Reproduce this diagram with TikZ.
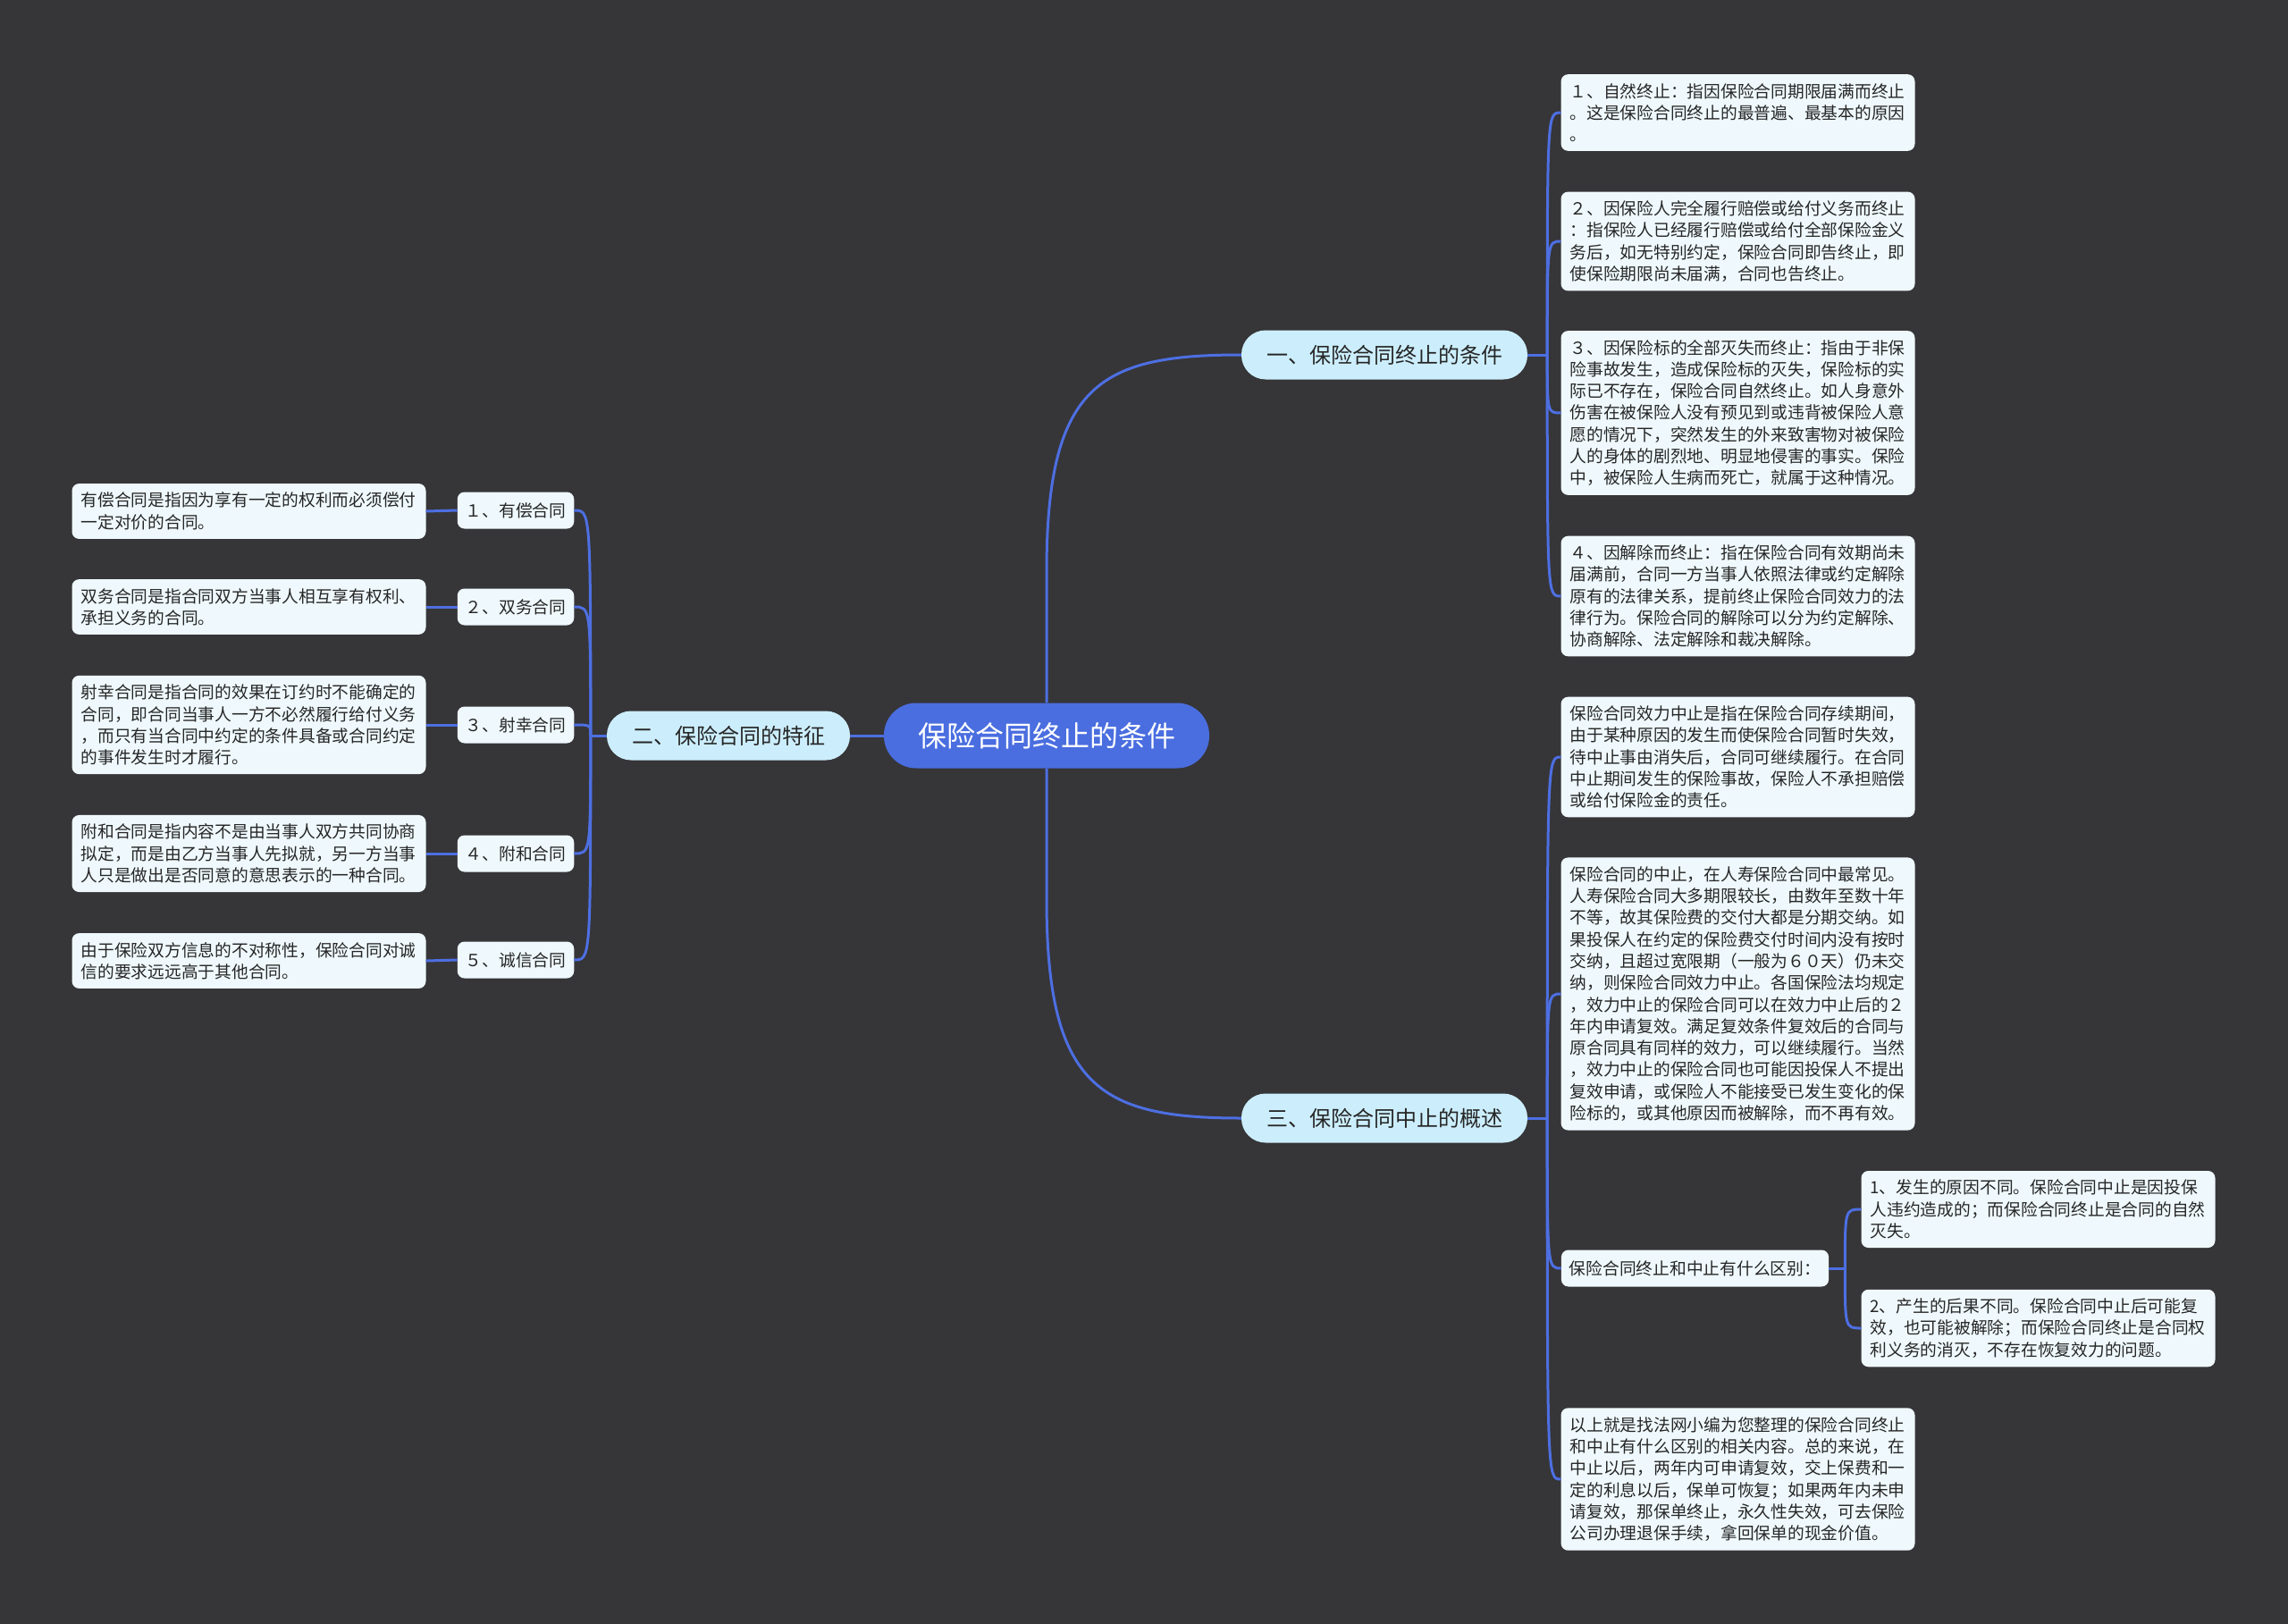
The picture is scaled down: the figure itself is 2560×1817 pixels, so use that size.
\documentclass[tikz,border=0pt]{standalone}
\usepackage{fontspec}
\setmainfont{Noto Sans CJK SC}
\definecolor{bgc}{HTML}{363538}
\definecolor{rootc}{HTML}{4A6EE0}
\definecolor{linec}{HTML}{4D6FE2}
\definecolor{branchc}{HTML}{CCEEFC}
\definecolor{leafc}{HTML}{EFF9FD}
\definecolor{txtc}{HTML}{262626}
\begin{document}
\begin{tikzpicture}[x=1pt,y=-1pt,
  leaf/.style={fill=leafc, text=txtc, rounded corners=8pt, inner xsep=10pt, inner ysep=10pt,
    align=left, text width=376pt, font=\fontsize{18.75}{24.3}\selectfont},
  small/.style={fill=leafc, text=txtc, rounded corners=8pt, inner xsep=9pt, inner ysep=0pt,
    minimum height=41pt, font=\fontsize{18.75}{24.3}\selectfont},
  branch/.style={fill=branchc, text=txtc, rounded corners=27pt, inner xsep=28pt, inner ysep=0pt,
    minimum height=55pt, font=\fontsize{24}{28}\selectfont},
  rootbox/.style={fill=rootc, text=white, rounded corners=36pt, inner xsep=38pt, inner ysep=0pt,
    minimum height=73pt, font=\fontsize{32}{36}\selectfont},
  conn/.style={draw=linec, line width=3pt}
]
\fill[bgc] (0,0) rectangle (2560,1817);
\useasboundingbox (0,0) rectangle (2560,1817);

% root and branches
\node[rootbox] (root) at (1171,823) {保险合同终止的条件};
\node[branch] (b1) at (1549,397) {一、保险合同终止的条件};
\node[branch] (b2) at (815,823) {二、保险合同的特征};
\node[branch] (b3) at (1549,1251) {三、保险合同中止的概述};

% right leaves of branch 1
\node[leaf] (r1) at (1944.5,126) {１、自然终止：指因保险合同期限届满而终止\\。这是保险合同终止的最普遍、最基本的原因\\。};
\node[leaf] (r2) at (1944.5,270) {２、因保险人完全履行赔偿或给付义务而终止\\：指保险人已经履行赔偿或给付全部保险金义\\务后，如无特别约定，保险合同即告终止，即\\使保险期限尚未届满，合同也告终止。};
\node[leaf] (r3) at (1944.5,462) {３、因保险标的全部灭失而终止：指由于非保\\险事故发生，造成保险标的灭失，保险标的实\\际已不存在，保险合同自然终止。如人身意外\\伤害在被保险人没有预见到或违背被保险人意\\愿的情况下，突然发生的外来致害物对被保险\\人的身体的剧烈地、明显地侵害的事实。保险\\中，被保险人生病而死亡，就属于这种情况。};
\node[leaf] (r4) at (1944.5,667) {４、因解除而终止：指在保险合同有效期尚未\\届满前，合同一方当事人依照法律或约定解除\\原有的法律关系，提前终止保险合同效力的法\\律行为。保险合同的解除可以分为约定解除、\\协商解除、法定解除和裁决解除。};

% right leaves of branch 3
\node[leaf] (r5) at (1944.5,847) {保险合同效力中止是指在保险合同存续期间，\\由于某种原因的发生而使保险合同暂时失效，\\待中止事由消失后，合同可继续履行。在合同\\中止期间发生的保险事故，保险人不承担赔偿\\或给付保险金的责任。};
\node[leaf] (r6) at (1944.5,1112) {保险合同的中止，在人寿保险合同中最常见。\\人寿保险合同大多期限较长，由数年至数十年\\不等，故其保险费的交付大都是分期交纳。如\\果投保人在约定的保险费交付时间内没有按时\\交纳，且超过宽限期（一般为６０天）仍未交\\纳，则保险合同效力中止。各国保险法均规定\\，效力中止的保险合同可以在效力中止后的２\\年内申请复效。满足复效条件复效后的合同与\\原合同具有同样的效力，可以继续履行。当然\\，效力中止的保险合同也可能因投保人不提出\\复效申请，或保险人不能接受已发生变化的保\\险标的，或其他原因而被解除，而不再有效。};
\node[small] (r7) at (1896.5,1419) {保险合同终止和中止有什么区别：};
\node[leaf] (r7a) at (2280.5,1353) {1、发生的原因不同。保险合同中止是因投保\\人违约造成的；而保险合同终止是合同的自然\\灭失。};
\node[leaf] (r7b) at (2280.5,1486) {2、产生的后果不同。保险合同中止后可能复\\效，也可能被解除；而保险合同终止是合同权\\利义务的消灭，不存在恢复效力的问题。};
\node[leaf] (r8) at (1944.5,1655) {以上就是找法网小编为您整理的保险合同终止\\和中止有什么区别的相关内容。总的来说，在\\中止以后，两年内可申请复效，交上保费和一\\定的利息以后，保单可恢复；如果两年内未申\\请复效，那保单终止，永久性失效，可去保险\\公司办理退保手续，拿回保单的现金价值。};

% left side
\node[small] (s1) at (577,571) {１、有偿合同};
\node[small] (s2) at (577,679) {２、双务合同};
\node[small] (s3) at (577,811) {３、射幸合同};
\node[small] (s4) at (577,955) {４、附和合同};
\node[small] (s5) at (577,1074) {５、诚信合同};
\node[leaf] (l1) at (278.5,572) {有偿合同是指因为享有一定的权利而必须偿付\\一定对价的合同。};
\node[leaf] (l2) at (278.5,679) {双务合同是指合同双方当事人相互享有权利、\\承担义务的合同。};
\node[leaf] (l3) at (278.5,811) {射幸合同是指合同的效果在订约时不能确定的\\合同，即合同当事人一方不必然履行给付义务\\，而只有当合同中约定的条件具备或合同约定\\的事件发生时才履行。};
\node[leaf] (l4) at (278.5,955) {附和合同是指内容不是由当事人双方共同协商\\拟定，而是由乙方当事人先拟就，另一方当事\\人只是做出是否同意的意思表示的一种合同。};
\node[leaf] (l5) at (278.5,1075) {由于保险双方信息的不对称性，保险合同对诚\\信的要求远远高于其他合同。};

% connectors root -> branches
\begin{scope}[on background layer/.style={}]
\draw[conn] (root.north) -- (1171,640) .. controls (1171,430) and (1230,397) .. (b1.west);
\draw[conn] (root.south) -- (1171,1006) .. controls (1171,1216) and (1230,1251) .. (b3.west);
\draw[conn] (root.west) -- (b2.east);

% branch 1 -> leaves
\draw[conn] (b1.east) -- ++(22,0) coordinate (j1);
\foreach \c in {r1,r2,r3,r4}
  \draw[conn] (j1) .. controls (j1 |- \c.west) .. (\c.west);
% branch 3 -> leaves
\draw[conn] (b3.east) -- ++(22,0) coordinate (j3);
\foreach \c in {r5,r6,r7,r8}
  \draw[conn] (j3) .. controls (j3 |- \c.west) .. (\c.west);
% r7 -> sub leaves
\draw[conn] (r7.east) -- ++(18,0) coordinate (j7);
\foreach \c in {r7a,r7b}
  \draw[conn] (j7) .. controls (j7 |- \c.west) .. (\c.west);
% branch 2 -> subs
\draw[conn] (b2.west) -- ++(-18,0) coordinate (j2);
\foreach \c in {s1,s2,s3,s4,s5}
  \draw[conn] (j2) .. controls (j2 |- \c.east) .. (\c.east);
% subs -> leaves
\draw[conn] (s1.west) -- (l1.east);
\draw[conn] (s2.west) -- (l2.east);
\draw[conn] (s3.west) -- (l3.east);
\draw[conn] (s4.west) -- (l4.east);
\draw[conn] (s5.west) -- (l5.east);
\end{scope}
\end{tikzpicture}
\end{document}
